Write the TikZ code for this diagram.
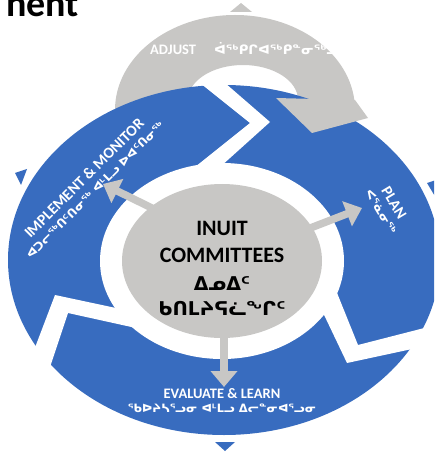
\documentclass[tikz,border=0pt]{standalone}
\usepackage{fontspec}
\setmainfont{Carlito}
\newfontfamily\syl{DejaVu Sans}
\usetikzlibrary{arrows.meta,shapes.geometric}
\definecolor{cblue}{HTML}{386CBF}
\definecolor{cgray}{HTML}{C8C7C5}
\tikzset{
  gapband/.style={fill=white},
  ptr/.style={draw=cgray, line width=7.5pt, -{Triangle[width=26pt,length=16pt]}},
  lbl/.style={text=white, font=\fontsize{15.5}{16}\selectfont\bfseries, inner sep=0pt},
  slbl/.style={text=white, font=\fontsize{11.5}{12}\selectfont\syl\bfseries, inner sep=0pt},
  tri/.style={fill=cblue}
}
\begin{document}
\begin{tikzpicture}[x=1pt,y=-1pt]
\useasboundingbox (0,0) rectangle (434,454);
\clip (0,0) rectangle (434,454);
% title fragment
\node[anchor=base east, inner sep=0pt, font=\fontsize{38}{38}\selectfont\bfseries] (title) at (79,17) {nent};
% gray ADJUST ring
\fill[cgray, even odd rule] (235,110) ellipse [x radius=120pt, y radius=95pt]
  (243,100) ellipse [x radius=55pt, y radius=35pt];
\fill[cgray] (230,12) -- (241,3) -- (252,12) -- cycle;
% blue ring
\fill[cblue] (224,260) ellipse [x radius=216pt, y radius=175pt];
\fill[white] (222,261) ellipse [x radius=122pt, y radius=98pt];
% gaps
\fill[gapband] (200,83) -- (250,123) -- (195,167) -- (220,167) -- (270,122) -- (225,83) -- cycle;
\fill[gapband] (331,278) -- (358,345) -- (436,325) -- (426,346) -- (347,363) -- (316,298) -- cycle;
\fill[gapband] (130,311) -- (55,295) -- (28,366) -- (44,385) -- (68,313) -- (145,330) -- cycle;
% gray barb
\fill[cgray] (276,98) -- (312,133) -- (368,118) -- (355,100) -- cycle;
% small triangles
\fill[tri] (15,173) -- (27,169) -- (21,185) -- cycle;
\fill[tri] (427,183) -- (436,180) -- (436,198) -- cycle;
\fill[tri] (215,442) -- (235,442) -- (225,451) -- cycle;
% centre
\node[ellipse, fill=cgray, minimum width=200pt, minimum height=154pt, inner sep=0pt] (hub) at (222,261) {};
\coordinate (tl) at (103,184);
\coordinate (tr) at (362,208);
\coordinate (tb) at (224,387);
\draw[ptr] (160,212) -- (tl);
\draw[ptr] (300,232) -- (tr);
\draw[ptr] (224,330) -- (tb);
\node[font=\fontsize{22}{27}\selectfont\bfseries, anchor=base] (c1) at (222,235) {INUIT};
\node[font=\fontsize{22}{27}\selectfont\bfseries, anchor=base] (c2) at (222,262) {COMMITTEES};
\node[font=\fontsize{19}{27}\selectfont\syl\bfseries, anchor=base] (c3) at (222,290) {ᐃᓄᐃᑦ};
\node[font=\fontsize{19}{27}\selectfont\syl\bfseries, anchor=base] (c4) at (222,315) {ᑲᑎᒪᔨᕋᓛᖏᑦ};
% labels
\node[lbl, anchor=base west, font=\fontsize{14.5}{15}\selectfont\bfseries] (adj) at (150,55) {ADJUST};
\node[slbl, anchor=base west, font=\fontsize{13}{13}\selectfont\syl\bfseries] (adjs) at (214,55) {ᐋᖅᑭᒋᐊᖅᑭᓐᓂᖅᓗ};
\node[lbl, rotate=-59] (plan) at (394,203) {PLAN};
\node[slbl, rotate=-59] (plans) at (381,212) {ᐸᕐᓈᓂᖅ};
\node[lbl, rotate=45] (imp) at (84,178) {IMPLEMENT \& MONITOR};
\node[slbl, rotate=45] (imps) at (95,190) {ᐊᑐᓕᖅᑎᑦᑎᓂᖅ ᐊᒻᒪᓗ ᐅᐊᑦᑎᓂᖅ};
\node[lbl, anchor=base, font=\fontsize{14.5}{15}\selectfont\bfseries] (ev) at (222,398) {EVALUATE \& LEARN};
\node[slbl, anchor=base] (evs) at (222,412) {ᖃᐅᔨᓴᕐᓗᓂ ᐊᒻᒪᓗ ᐃᓕᓐᓂᐊᕐᓗᓂ};
\end{tikzpicture}
\end{document}
